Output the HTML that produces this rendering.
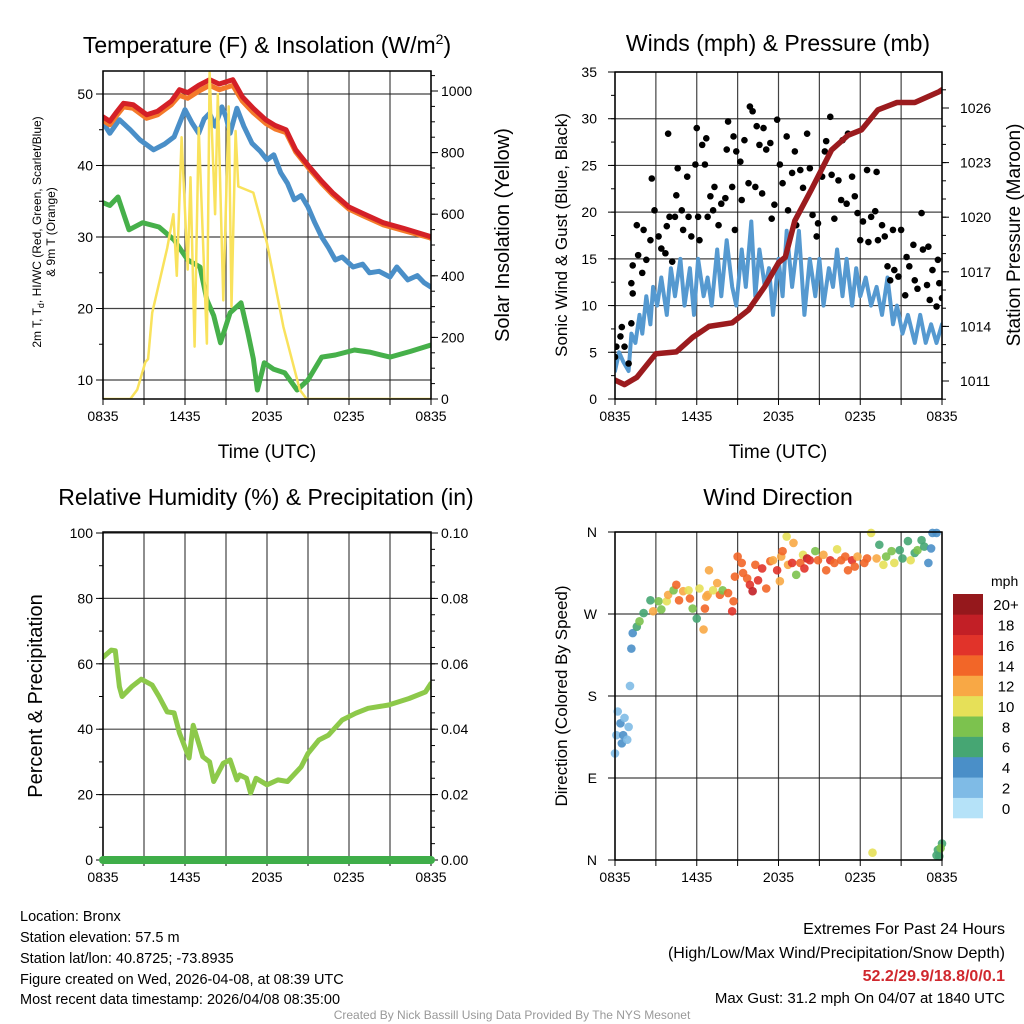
<!DOCTYPE html>
<html><head><meta charset="utf-8"><title>Bronx Meteogram</title>
<style>html,body{margin:0;padding:0;background:#fff}svg{display:block;font-family:"Liberation Sans",Arial,sans-serif}</style></head>
<body>
<svg id="chart" width="1024" height="1024" viewBox="0 0 1024 1024" xmlns="http://www.w3.org/2000/svg">
<g font-size="23" text-anchor="middle" fill="#000">
<text x="267" y="53">Temperature (F) &amp; Insolation (W/m<tspan font-size="14" dy="-9">2</tspan><tspan dy="9">)</tspan></text>
<text x="778" y="51">Winds (mph) &amp; Pressure (mb)</text>
<text x="266" y="505">Relative Humidity (%) &amp; Precipitation (in)</text>
<text x="778" y="505">Wind Direction</text>
</g>
<g font-size="14.5" fill="#000">
<text x="20" y="921">Location: Bronx</text>
<text x="20" y="942">Station elevation: 57.5 m</text>
<text x="20" y="963">Station lat/lon: 40.8725; -73.8935</text>
<text x="20" y="984">Figure created on Wed, 2026-04-08, at 08:39 UTC</text>
<text x="20" y="1004">Most recent data timestamp: 2026/04/08 08:35:00</text>
<g text-anchor="end">
<text x="1005" y="934" font-size="16">Extremes For Past 24 Hours</text>
<text x="1005" y="958" font-size="16">(High/Low/Max Wind/Precipitation/Snow Depth)</text>
<text x="1005" y="981" font-size="16" font-weight="bold" fill="#d0282e">52.2/29.9/18.8/0/0.1</text>
<text x="1005" y="1003" font-size="15">Max Gust: 31.2 mph On 04/07 at 1840 UTC</text>
</g>
<text x="512" y="1019" font-size="12" fill="#999" text-anchor="middle">Created By Nick Bassill Using Data Provided By The NYS Mesonet</text>
</g>
</svg>
<script>
// ---- Data ----
const hourTicks = ["0835","1435","2035","0235","0835"];
const tempLeftTicks = [10,20,30,40,50];
const insRightTicks = [0,200,400,600,800,1000];
const windLeftTicks = [0,5,10,15,20,25,30,35];
const presRightTicks = [1011,1014,1017,1020,1023,1026];
const rhLeftTicks = [0,20,40,60,80,100];
const precRightTicks = ["0.00","0.02","0.04","0.06","0.08","0.10"];
const dirLabels = ["N","E","S","W","N"];
const speedBins = ["0","2","4","6","8","10","12","14","16","18","20+"];
const speedColors = ["#b5e2f8","#7fbbe6","#4a8fc8","#46a673","#7cc24e","#e6e058","#f8a845","#f26628","#e1332a","#c21f26","#95181c"];

const redT = [0,0.5,1.0,1.5,2.2,3.2,4.0,5.0,5.6,6.2,7.0,7.8,8.5,9.5,10.2,11.0,11.9,12.6,13.4,14.1,15.1,16.0,16.8,18.0,19.0,20.5,22,23.9,24];
const redV = [46.8,46.2,47.5,48.7,48.5,47.1,47.6,49,50.6,50.2,51.2,52,51.4,52,49.6,48,46.4,45.6,45,42.2,39.8,37.8,36.2,34.2,33.3,32,31.2,30.1,30];
const orangeV = [46.3,45.7,47.0,48.2,48.0,46.6,47.1,48.5,49.8,49.4,50.4,51.2,50.6,51.2,49.0,47.4,45.9,45.1,44.6,41.9,39.5,37.5,35.9,33.9,33.0,31.7,30.9,29.9,29.8];
const blueT = [0,0.5,1.2,2.0,2.7,3.7,4.5,5.2,6.0,6.5,7.0,7.4,7.8,8.2,8.7,9.0,9.3,9.8,10.3,10.9,11.5,12.0,12.5,13.0,13.5,14.0,14.5,15.0,15.5,16.0,16.5,17.0,17.5,18.3,19.0,19.5,20.2,21.0,21.5,22.3,23.0,23.5,24];
const blueV = [46,44.5,46.4,45,43.6,42.2,43,44,47.8,46,44.5,46.5,47.3,45.5,48.2,46.8,44.5,48,45.5,43.1,42,40.8,41.5,39,37.5,35.2,35.8,34.2,32,30,28.5,26.8,27.2,25.8,26.2,25,25.2,24.4,25.8,24,24.6,23.6,23];
const greenT = [0,0.5,1.1,1.9,2.9,4.1,5.2,6.2,7.1,7.6,8.1,8.6,9.3,10.1,10.6,11.0,11.3,11.8,12.5,13.3,14.2,15.0,16.0,17.0,18.4,19.5,21.0,22.5,24];
const greenV = [34.8,34.4,35.6,31,32,31.4,29.6,26.8,25.8,21.2,19,15.2,19.4,20.8,16.6,13,8.6,12.4,11.5,11,8.6,10,13.2,13.5,14.2,13.9,13.2,14,14.9];
const insT = [0,2.0,2.5,3.1,3.3,3.6,4.7,5.15,5.4,5.75,6.2,6.4,6.7,7.0,7.6,7.8,8.2,8.4,8.8,9.2,9.4,9.7,9.9,11.0,12.0,13.2,14.4,14.9,24];
const insV = [0,0,30,120,130,280,490,600,400,850,420,720,170,880,180,1060,600,990,320,950,300,870,690,670,506,234,30,0,0];

const windT = [0,0.3,0.6,1.0,1.2,1.5,1.8,2.0,2.3,2.6,2.8,3.1,3.4,3.8,4.1,4.4,4.8,5.1,5.5,5.8,6.1,6.5,6.8,7.1,7.5,7.8,8.2,8.6,8.9,9.3,9.6,10.0,10.3,10.6,11.0,11.3,11.6,12.0,12.3,12.6,13.0,13.5,13.9,14.3,14.7,15.0,15.3,15.7,16.0,16.3,16.7,17.0,17.4,17.7,18.0,18.4,18.8,19.2,19.6,20.0,20.4,20.7,21.1,21.5,22.0,22.4,22.8,23.2,23.6,24];
const windV = [3,5,4,3,7,6,9,7,11,8,12,10,13,9,14,11,15,10,14,9,15,11,13,10,16,11,17,12,10,16,12,19,11,16,12,14,9,15,11,18,12,18,9,15,11,15,10,14,12,16,11,15,10,14,11,13,10,12,9,13,8,10,7,9,6,9,6,8,6,8];
const presT = [0,0.7,1.6,3.0,4.5,5.7,6.9,8.6,9.8,11.0,12.0,12.5,13.2,14.4,15.9,17.1,18.1,19.3,20.7,22.0,23.8,24];
const presV = [1011.05,1010.8,1011.2,1012.5,1012.6,1013.4,1014.0,1014.2,1014.9,1016.2,1017.5,1017.8,1019.8,1021.5,1023.7,1024.5,1024.8,1025.9,1026.3,1026.3,1026.9,1027.0];
const gustT = [0.0,0.1,0.4,0.5,0.7,1.0,1.2,1.2,1.3,1.3,1.7,2.0,1.6,2.1,2.3,2.6,2.7,2.9,3.2,3.4,3.7,3.8,3.9,4.0,4.2,4.4,4.5,4.6,4.9,5.0,5.3,5.4,5.6,5.9,6.0,6.1,6.2,6.4,6.6,6.7,6.8,7.0,7.2,7.3,7.6,7.8,8.1,8.2,8.3,8.6,8.7,8.8,8.9,9.2,9.3,9.5,9.8,9.9,10.1,10.3,10.4,10.6,10.8,10.9,11.1,11.4,11.5,11.7,11.9,12.1,12.3,12.6,12.7,13.0,13.2,13.3,13.6,13.8,14.1,14.3,14.5,14.8,14.9,15.2,15.4,15.5,15.8,15.9,16.1,16.4,16.6,16.7,17.0,17.1,17.4,17.6,17.8,18.0,18.2,18.5,18.6,18.8,19.1,19.2,19.3,19.6,19.8,20.0,20.2,20.4,20.5,20.8,21.0,21.3,21.4,21.6,21.9,22.0,22.2,22.5,22.6,22.9,23.0,23.1,23.3,23.6,23.7,23.8,24.0];
const gustV = [4.5,5.6,6.7,7.7,5.6,3.8,8.1,12.4,11.3,14.3,15.4,13.5,18.6,18.1,14.9,17.0,23.6,20.2,17.4,16.1,15.6,18.5,28.4,19.5,14.7,19.5,21.8,24.7,20.2,18.1,23.8,19.5,17.4,25.1,29.0,19.5,17.0,27.2,25.1,27.9,19.5,21.7,20.2,22.7,18.6,20.9,21.5,26.7,29.7,22.7,28.1,18.1,26.5,25.4,21.3,27.7,23.1,31.3,30.8,22.7,29.2,27.2,22.0,29.0,26.7,27.4,19.3,20.8,29.9,25.1,23.1,28.1,20.2,24.2,26.5,18.6,24.5,22.6,28.4,24.7,19.7,17.4,18.8,23.8,26.5,27.6,30.2,24.0,19.3,23.4,21.3,27.7,20.9,28.4,23.8,21.7,19.9,17.0,19.0,24.5,16.8,19.5,20.1,24.3,17.0,18.6,17.4,14.2,12.7,18.1,13.8,13.1,18.1,11.1,15.2,14.2,16.5,12.7,11.8,19.9,16.0,12.2,16.3,10.6,13.8,9.9,14.9,12.4,10.8];

const rhT = [0,0.6,0.9,1.2,1.4,2.1,2.8,3.6,4.1,4.7,5.2,5.6,6.3,6.6,7.3,7.8,8.1,8.8,9.3,9.8,10.0,10.5,10.8,11.2,12.0,12.8,13.5,14.5,15.0,15.8,16.5,17.5,18.5,19.4,20.9,22.4,23.6,24];
const rhV = [62,64.2,64,53,50,53,55.3,53.5,50,45.3,45,38.8,31.2,41.2,31.6,30,24,29.6,30.6,24.5,26,25,20.5,25,23,24.5,24,28.5,32.6,36.7,38.2,42.8,44.9,46.4,47.4,49.4,51.4,54];
const precT = [0,24];
const precV = [0,0];

const dirT = [0,0.1,0.2,0.4,0.5,0.6,0.7,0.9,1.0,1.1,1.2,1.3,1.6,1.8,2.1,2.6,2.8,3.2,3.4,3.8,3.9,4.3,4.5,4.7,5.0,5.4,5.5,5.7,6.0,6.2,6.5,6.6,6.7,6.8,6.9,7.2,7.5,7.7,7.9,8.3,8.6,8.7,8.8,9.0,9.3,9.4,9.7,9.9,10.1,10.3,10.5,10.8,11.1,11.4,11.6,11.9,12.1,12.2,12.3,12.6,12.7,13.0,13.1,13.3,13.6,13.8,13.9,14.1,14.3,14.7,14.9,15.3,15.5,15.8,16.1,16.3,16.6,16.9,17.1,17.4,17.6,17.8,18.3,18.5,18.8,18.9,19.2,19.4,19.7,19.9,20.3,20.5,20.9,21.1,21.5,21.7,22.0,22.2,22.5,22.7,23.0,23.2,23.3,23.6,23.6,23.7,23.8,24.0,23.9];
const dirV = [117,137,163,150,128,137,156,132,146,191,232,249,256,262,271,285,273,284,275,284,291,296,302,285,295,296,287,276,265,298,253,276,289,291,318,296,304,291,296,293,273,284,311,333,326,315,309,302,295,324,307,320,298,328,329,318,306,333,339,355,324,326,348,313,326,335,320,331,329,339,329,335,318,329,326,341,329,333,318,329,322,333,326,331,359,8,331,346,324,333,339,326,340,331,350,329,337,340,351,344,326,342,359,359,5,11,4,18,13];
const dirS = [3,3,2,4,4,4,2,2,2,2,4,5,6,8,7,6,12,9,8,11,13,9,14,15,12,11,14,8,7,10,12,14,13,12,12,11,12,15,9,15,17,14,14,15,14,15,15,16,18,15,17,16,15,14,13,17,13,12,14,10,12,16,12,9,15,10,16,18,16,8,14,13,15,16,15,10,15,14,15,17,14,12,15,15,10,10,12,7,10,9,8,10,6,7,6,10,6,8,6,7,5,4,4,4,6,7,6,6,8];

// ---- Helpers ----
const NS = "http://www.w3.org/2000/svg";
const svg = document.getElementById("chart");
function mk(tag, attrs, parent){
  const e = document.createElementNS(NS, tag);
  for (const k in attrs) e.setAttribute(k, attrs[k]);
  (parent||svg).appendChild(e);
  return e;
}
function scale(d0,d1,r0,r1){ return v => r0 + (v-d0)/(d1-d0)*(r1-r0); }

function panel(name, x0, x1, y0, y1){
  const g = mk("g", {});
  
  
  const cp = mk("clipPath", {id: name+"-clip"}, g);
  mk("rect", {x:x0, y:y0, width:x1-x0, height:y1-y0}, cp);
  return g;
}

function timeAxis(g, xs, y0, y1, labelY){
  for (let h=0; h<=24; h+=3){
    const x = xs(h);
    const gl = mk("line", {x1:x, x2:x, y1:y0, y2:y1, stroke:"#222", "stroke-width":1.2, "stroke-opacity":0.85}, g);
    
    
    const tk = mk("line", {x1:x, x2:x, y1:y1, y2:y1+6, stroke:"#000", "stroke-width":1}, g);
    
    
  }
  hourTicks.forEach((lab,i)=>{
    const t = mk("text", {x:xs(i*6), y:labelY, "font-size":14, "text-anchor":"middle"}, g);
    t.textContent = lab;
    
    
  });
}
function hGrid(g, x0, x1, ys, vals){
  vals.forEach(v=>{
    const l = mk("line", {x1:x0, x2:x1, y1:ys(v), y2:ys(v), stroke:"#222", "stroke-width":1.2, "stroke-opacity":0.85}, g);
    
    
  });
}
function yTicks(g, x, ys, vals, labels, side, minorStep, lo, hi, anchorX){
  const dir = side==="left" ? -1 : 1;
  for (let v=lo; v<=hi+1e-9; v+=minorStep){
    const l = mk("line", {x1:x, x2:x+dir*4, y1:ys(v), y2:ys(v), stroke:"#000", "stroke-width":1}, g);
    
    
  }
  vals.forEach((v,i)=>{
    const l = mk("line", {x1:x, x2:x+dir*7, y1:ys(v), y2:ys(v), stroke:"#000", "stroke-width":1}, g);
    
    
    const t = mk("text", {x:anchorX, y:ys(v)+5, "font-size":14, "text-anchor": side==="left"?"end":"start"}, g);
    t.textContent = labels[i];
    
    
  });
}
function frame(g, x0, x1, y0, y1){
  const r = mk("rect", {x:x0, y:y0, width:x1-x0, height:y1-y0, fill:"none", stroke:"#000", "stroke-width":1.5}, g);
  
  
}
function linePath(g, ts, vs, xs, ys, color, w, name, clipId){
  let d = "";
  ts.forEach((t,i)=>{ d += (i?"L":"M") + xs(t).toFixed(1) + "," + ys(vs[i]).toFixed(1); });
  const p = mk("path", {d:d, fill:"none", stroke:color, "stroke-width":w, "stroke-linejoin":"round", "stroke-linecap":"round", "clip-path":"url(#"+clipId+")"}, g);
  
  
  return p;
}
function rotText(g, x, y, size, txt, name){
  const t = mk("text", {x:0, y:0, "font-size":size, "text-anchor":"middle", transform:"translate("+x+","+y+") rotate(-90)"}, g);
  t.textContent = txt;
  
  
  return t;
}

// ---- Panel 1: Temperature ----
(function(){
  const X0=103, X1=431, Y0=71, Y1=399;
  const g = panel("temperature-panel", X0, X1, Y0, Y1);
  const xs = scale(0,24,X0,X1);
  const ys = scale(10,50,380,94);
  const yr = scale(0,1000,399,91);
  hGrid(g, X0, X1, ys, tempLeftTicks);
  timeAxis(g, xs, Y0, Y1, 421);
  yTicks(g, X0, ys, tempLeftTicks, tempLeftTicks.map(String), "left", 5, 10, 50, 93);
  yTicks(g, X1, yr, insRightTicks, insRightTicks.map(String), "right", 50, 0, 1050, 441);
  linePath(g, greenT, greenV, xs, ys, "#46b04a", 5, "dewpoint-line", "temperature-panel-clip");
  linePath(g, blueT, blueV, xs, ys, "#4a8fc8", 5, "wind-chill-line", "temperature-panel-clip");
  linePath(g, redT, orangeV, xs, ys, "#f47a2a", 5, "temp-9m-line", "temperature-panel-clip");
  linePath(g, redT, redV, xs, ys, "#d42027", 5, "temp-2m-line", "temperature-panel-clip");
  linePath(g, insT, insV, xs, yr, "#f9e25c", 2.5, "insolation-line", "temperature-panel-clip");
  frame(g, X0, X1, Y0, Y1);
  const xt = mk("text", {x:267, y:458, "font-size":19, "text-anchor":"middle"}, g);
  xt.textContent = "Time (UTC)";
  
  
  const yl = mk("text", {x:0, y:0, "font-size":12, "text-anchor":"middle", transform:"translate(41,232) rotate(-90)"}, g);
  yl.innerHTML = '2m T, T<tspan font-size="9" dy="3">d</tspan><tspan dy="-3">, HI/WC (Red, Green, Scarlet/Blue)</tspan>';
  
  
  rotText(g, 55, 232, 12, "& 9m T (Orange)", "left-y-axis-title-2");
  rotText(g, 509, 235, 20, "Solar Insolation (Yellow)", "right-y-axis-title");
})();

// ---- Panel 2: Winds ----
(function(){
  const X0=615, X1=942, Y0=72, Y1=399;
  const g = panel("winds-panel", X0, X1, Y0, Y1);
  const xs = scale(0,24,X0,X1);
  const ys = scale(0,35,399,72);
  const yr = scale(1011,1026,381,108);
  hGrid(g, X0, X1, ys, windLeftTicks);
  timeAxis(g, xs, Y0, Y1, 421);
  yTicks(g, X0, ys, windLeftTicks, windLeftTicks.map(String), "left", 2.5, 0, 35, 597);
  yTicks(g, X1, yr, presRightTicks, presRightTicks.map(String), "right", 1, 1010, 1027, 960);
  linePath(g, windT, windV, xs, ys, "#5599d0", 4, "sonic-wind-line", "winds-panel-clip");
  gustT.forEach((t,i)=>{
    const c = mk("circle", {cx:xs(t), cy:ys(gustV[i]), r:3.3, fill:"#000", "clip-path":"url(#winds-panel-clip)"}, g);
    
    
  });
  linePath(g, presT, presV, xs, yr, "#9b1b1e", 5.5, "pressure-line", "winds-panel-clip");
  frame(g, X0, X1, Y0, Y1);
  const xt = mk("text", {x:778, y:458, "font-size":19, "text-anchor":"middle"}, g);
  xt.textContent = "Time (UTC)";
  
  
  rotText(g, 567, 235, 17, "Sonic Wind & Gust (Blue, Black)", "left-y-axis-title");
  rotText(g, 1020, 235, 19, "Station Pressure (Maroon)", "right-y-axis-title");
})();

// ---- Panel 3: RH ----
(function(){
  const X0=103, X1=431, Y0=532, Y1=860;
  const g = panel("humidity-panel", X0, X1, Y0, Y1);
  const xs = scale(0,24,X0,X1);
  const ys = scale(0,100,860,533);
  const yr = scale(0,0.10,860,533);
  hGrid(g, X0, X1, ys, rhLeftTicks);
  timeAxis(g, xs, Y0, Y1, 882);
  yTicks(g, X0, ys, rhLeftTicks, rhLeftTicks.map(String), "left", 10, 0, 100, 93);
  yTicks(g, X1, yr, precRightTicks.map(Number), precRightTicks, "right", 0.005, 0, 0.1, 441);
  linePath(g, rhT, rhV, xs, ys, "#8dc94a", 5, "humidity-line", "humidity-panel-clip");
  frame(g, X0, X1, Y0, Y1);
  const pl = linePath(g, precT, precV, xs, yr, "#3fae49", 8, "precipitation-line", "none");
  pl.removeAttribute("clip-path");
  rotText(g, 42, 696, 20, "Percent & Precipitation", "left-y-axis-title");
})();

// ---- Panel 4: Wind Direction ----
(function(){
  const X0=615, X1=942, Y0=532, Y1=860;
  const g = panel("direction-panel", X0, X1, Y0, Y1);
  const xs = scale(0,24,X0,X1);
  const ys = scale(0,360,860,532);
  const dirVals = [0,90,180,270,360];
  hGrid(g, X0, X1, ys, dirVals);
  timeAxis(g, xs, Y0, Y1, 882);
  yTicks(g, X0, ys, dirVals, dirLabels, "left", 90, 0, 360, 597);
  dirT.forEach((t,i)=>{
    const bin = Math.min(10, Math.floor(dirS[i]/2));
    const c = mk("circle", {cx:xs(t), cy:ys(dirV[i]), r:4.3, fill:speedColors[bin], "fill-opacity":0.9}, g);
    
    
  });
  frame(g, X0, X1, Y0, Y1);
  rotText(g, 567, 696, 17, "Direction (Colored By Speed)", "left-y-axis-title");
  // legend
  const lg = mk("g", {}, g);
  
  
  const mt = mk("text", {x:991, y:586, "font-size":14}, lg);
  mt.textContent = "mph";
  
  
  const bh = (818-594)/speedBins.length;
  speedBins.forEach((lab,i)=>{
    const j = speedBins.length-1-i;
    const y = 594 + j*bh;
    const r = mk("rect", {x:953, y:y, width:30, height:bh+0.3, fill:speedColors[i]}, lg);
    
    
    const t = mk("text", {x:1006, y:y+bh/2+6, "font-size":15, "text-anchor":"middle"}, lg);
    t.textContent = lab;
    
    
  });
})();
</script>
</body></html>
